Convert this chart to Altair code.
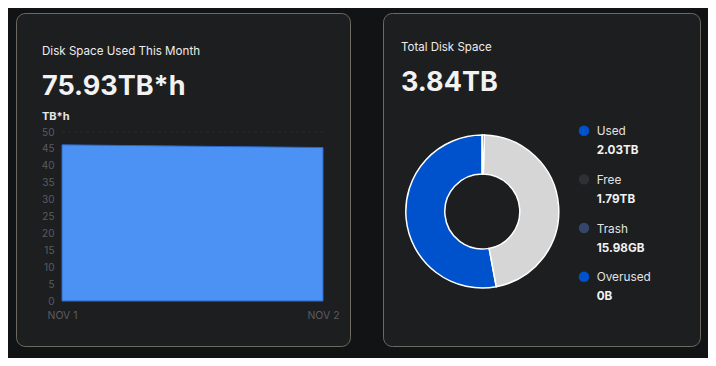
import altair as alt
import pandas as pd

# ---- data ----
days = ["NOV 1", "NOV 2"]
usage_tbh = [46.2, 45.4]
y_ticks = [0, 5, 10, 15, 20, 25, 30, 35, 40, 45, 50]

left_title = "Disk Space Used This Month"
left_total = "75.93TB*h"
y_unit = "TB*h"
right_title = "Total Disk Space"
right_total = "3.84TB"

categories = ["Used", "Free", "Trash", "Overused"]
space_tb = [2.03, 1.79, 0.01598, 0.0]
space_labels = ["2.03TB", "1.79TB", "15.98GB", "0B"]
arc_order = [2, 1, 0, 3]
arc_colors = ["#0052cc", "#d6d6d6", "#36466a", "#0052cc"]
dot_colors = ["#0052cc", "#2f3033", "#36466a", "#0052cc"]

# ---- style ----
FONT = "Inter"
PAGE = "#121315"
CARD = "#1d1e20"
BORDER = "#6e6a62"
TXT = "#ececec"
AXIS_TXT = "#5a5c60"

one = pd.DataFrame({"k": [0]})


def card(x0, x1):
    return alt.Chart(one).mark_rect(
        cornerRadius=9, fill=CARD, stroke=BORDER, strokeWidth=1
    ).encode(x=alt.value(x0), x2=alt.value(x1), y=alt.value(-118.5), y2=alt.value(214.5))


def label(text, x, y, size, weight, color=TXT):
    return alt.Chart(pd.DataFrame({"t": [text]})).mark_text(
        align="left", baseline="alphabetic", font=FONT, fontSize=size,
        fontWeight=weight, color=color
    ).encode(text="t:N", x=alt.value(x), y=alt.value(y))


grid = alt.Chart(pd.DataFrame({"t": y_ticks})).mark_rule(
    color="#26282b", strokeWidth=1, strokeDash=[3, 3]
).encode(
    y=alt.Y("t:Q", scale=alt.Scale(domain=[0, 50], nice=False), axis=None),
    x=alt.value(0),
    x2=alt.value(261),
)

area_df = pd.DataFrame({"day": days, "v": usage_tbh})
area = alt.Chart(area_df).mark_area(
    color="#4b92f4", stroke="#2d66c9", strokeWidth=1, opacity=1
).encode(
    x=alt.X(
        "day:N", sort=days,
        scale=alt.Scale(type="point", padding=0),
        axis=alt.Axis(title=None, labelAngle=0, domain=False, ticks=False,
                      labelColor=AXIS_TXT, labelFont=FONT, labelFontSize=10.5,
                      labelPadding=9, grid=False, zindex=1),
    ),
    y=alt.Y(
        "v:Q",
        scale=alt.Scale(domain=[0, 50], nice=False),
        axis=alt.Axis(title=None, values=y_ticks, domain=False, ticks=False,
                      labelColor=AXIS_TXT, labelFont=FONT, labelFontSize=10,
                      labelPadding=8, grid=False, zindex=1),
    ),
)

donut_df = pd.DataFrame({
    "cat": categories, "tb": space_tb, "ord": arc_order, "arc": arc_colors,
})
donut = alt.Chart(donut_df).mark_arc(
    radius=76.5, radius2=37.5, stroke="#ffffff", strokeWidth=1.5
).encode(
    theta=alt.Theta("tb:Q", stack=True),
    order=alt.Order("ord:Q"),
    color=alt.Color("arc:N", scale=None, legend=None),
    x=alt.value(420.3),
    y=alt.value(79.5),
)

leg_df = pd.DataFrame({"cat": categories, "lbl": space_labels, "dot": dot_colors})
leg_y = alt.Y(
    "cat:N",
    scale=alt.Scale(type="point", domain=categories, range=[-1.3, 144.7], padding=0),
    axis=None,
)
leg_dots = alt.Chart(leg_df).mark_circle(size=110, opacity=1).encode(
    x=alt.value(522), y=leg_y, color=alt.Color("dot:N", scale=None, legend=None)
)
leg_names = alt.Chart(leg_df).mark_text(
    align="left", baseline="alphabetic", dy=4.5, font=FONT, fontSize=11.8,
    color="#e2e2e2"
).encode(x=alt.value(534.7), y=leg_y, text="cat:N")
leg_vals = alt.Chart(leg_df).mark_text(
    align="left", baseline="alphabetic", dy=23.5, font=FONT, fontSize=11.7,
    fontWeight="bold", color="#f2f2f2"
).encode(x=alt.value(534.7), y=leg_y, text="lbl:N")
legend = alt.layer(leg_dots, leg_names, leg_vals)

chart = alt.layer(
    card(-45.5, 288.5),
    card(321.5, 638.5),
    grid,
    area,
    label(left_title, -20, -77, 11.6, "normal"),
    label(left_total, -20, -37, 27, "bold", "#f2f2f2"),
    label(y_unit, -20, -12, 11, "bold", "#e6e6e6"),
    label(right_title, 339, -81, 11.5, "normal"),
    label(right_total, 339, -41, 27, "bold", "#f2f2f2"),
    donut,
    legend,
).resolve_scale(
    y="independent"
).properties(
    width=261,
    height=169,
    padding={"left": 54, "top": 124, "right": 385, "bottom": 57},
    autosize=alt.AutoSizeParams(type="none"),
    background=PAGE,
).configure_view(stroke=None).configure(font=FONT)

chart.save("out.html", embed_options={"renderer": "svg", "actions": False})
